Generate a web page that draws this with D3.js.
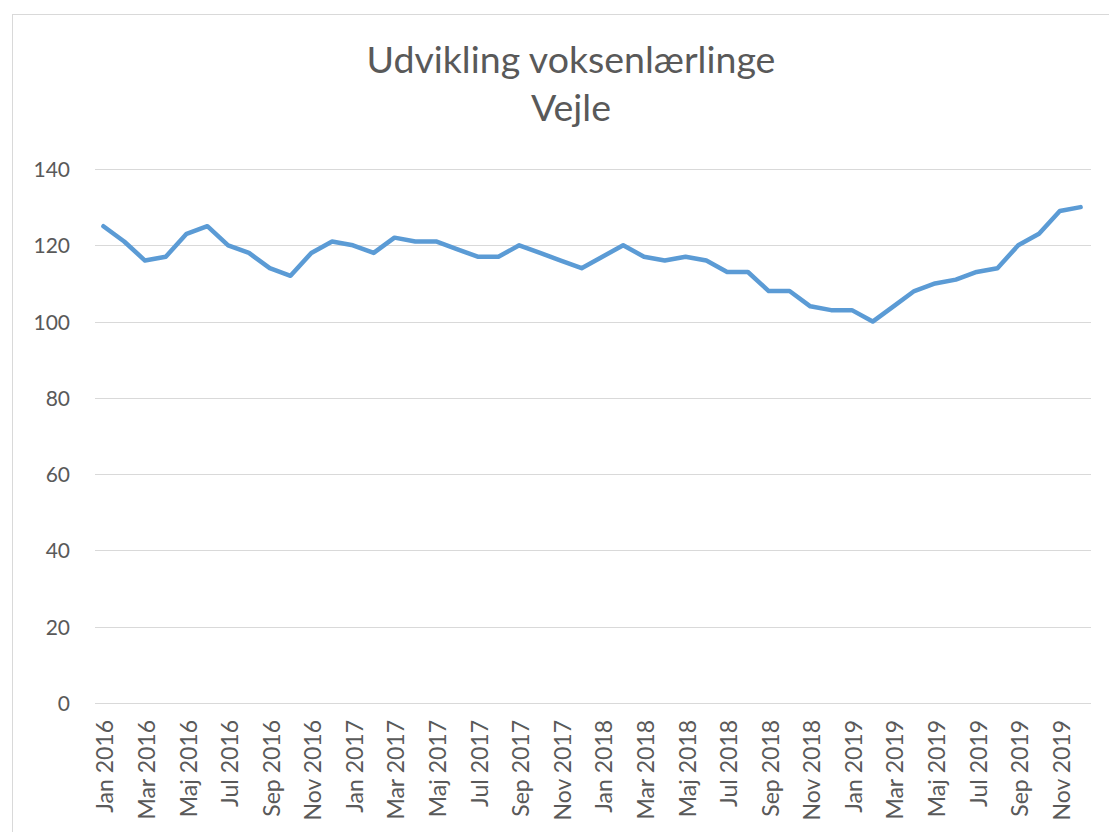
<!DOCTYPE html>
<html><head><meta charset="utf-8">
<script src="https://cdn.jsdelivr.net/npm/d3@7"></script>
<style>html,body{margin:0;padding:0;background:#fff;}svg{display:block;}</style>
</head><body>
<svg id="c" width="1109" height="832"></svg>
<script>
const monthNames = ["Jan","Feb","Mar","Apr","Maj","Jun","Jul","Aug","Sep","Okt","Nov","Dec"];
const years = [2016, 2017, 2018, 2019];
const categories = years.flatMap(y => monthNames.map(m => m + " " + y));
const values = [125,121,116,117,123,125,120,118,114,112,118,121,
                120,118,122,121,121,119,117,117,120,118,116,114,
                117,120,117,116,117,116,113,113,108,108,104,103,
                103,100,104,108,110,111,113,114,120,123,129,130];
const yTicks = [0,20,40,60,80,100,120,140];
const titleLines = ["Udvikling voksenlærlinge","Vejle"];

const svg = d3.select("#c");
const font = "Lato, 'Open Sans', sans-serif";
const W = 1109, H = 832;
const m = {left: 93, right: 1091, top: 169, bottom: 703};

// outer border
svg.append("rect").attr("x",12.5).attr("y",14.5).attr("width",W-12).attr("height",H-10)
  .attr("fill","#fff").attr("stroke","#d9d9d9").attr("stroke-width",1);

const x = d3.scaleBand().domain(categories).range([m.left, m.right]);
const y = d3.scaleLinear().domain([0,140]).range([m.bottom, m.top]);

// gridlines
svg.append("g").selectAll("line").data(yTicks).join("line")
  .attr("x1", m.left + 2).attr("x2", m.right)
  .attr("y1", d => Math.round(y(d))+0.5).attr("y2", d => Math.round(y(d))+0.5)
  .attr("stroke","#d9d9d9").attr("stroke-width",1);

// y axis labels
const yAxis = d3.axisLeft(y).tickValues(yTicks).tickSize(0).tickPadding(0);
const gy = svg.append("g").attr("transform","translate(70,0)").call(yAxis);
gy.select(".domain").remove();
gy.selectAll("text").attr("font-family",font).attr("font-size",21).attr("fill","#595959")
  .attr("dy","0.36em");

// x axis labels
const xAxis = d3.axisBottom(x).tickValues(categories.filter((d,i)=>i%2===0)).tickSize(0).tickPadding(0);
const gx = svg.append("g").attr("transform",`translate(0,${m.bottom})`).call(xAxis);
gx.select(".domain").remove();
gx.selectAll("text")
  .attr("font-family",font).attr("font-size",23).attr("fill","#595959")
  .attr("text-anchor","end").attr("dy",null).attr("y",0)
  .attr("transform","translate(10,17) rotate(-90)");

// line
const line = d3.line().x((d,i)=>x(categories[i]) + x.bandwidth()/2).y(d=>y(d));
svg.append("path").datum(values).attr("d",line)
  .attr("fill","none").attr("stroke","#5B9BD5").attr("stroke-width",4.5)
  .attr("stroke-linejoin","round").attr("stroke-linecap","round");

// title
svg.append("g").selectAll("text").data(titleLines).join("text")
  .attr("x", 571).attr("y",(d,i)=>73+i*48)
  .attr("text-anchor","middle").attr("font-family",font).attr("font-size",37.5)
  .attr("fill","#595959").text(d=>d);
</script>
</body></html>
